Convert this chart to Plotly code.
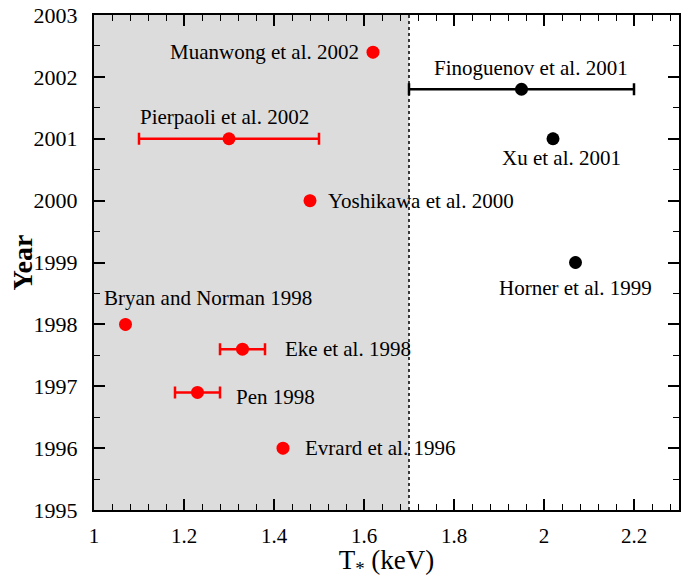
import plotly.graph_objects as go

# Data
red_names = ["Muanwong et al. 2002", "Pierpaoli et al. 2002", "Yoshikawa et al. 2000",
             "Bryan and Norman 1998", "Eke et al. 1998", "Pen 1998", "Evrard et al. 1996"]
red_T = [1.62, 1.30, 1.48, 1.07, 1.33, 1.23, 1.42]
red_year = [2002.4, 2001.0, 2000.0, 1998.0, 1997.6, 1996.9, 1996.0]
red_err_plus = [0, 0.20, 0, 0, 0.05, 0.05, 0]
red_err_minus = [0, 0.20, 0, 0, 0.05, 0.05, 0]

black_names = ["Finoguenov et al. 2001", "Xu et al. 2001", "Horner et al. 1999"]
black_T = [1.95, 2.02, 2.07]
black_year = [2001.8, 2001.0, 1999.0]
black_err_plus = [0.25, 0, 0]
black_err_minus = [0.25, 0, 0]

T_limit = 1.7

# label placement (offsets in data units relative to the point) and anchor
label_offsets = {
    "Muanwong et al. 2002": (-0.027, 0.0, "right"),
    "Pierpaoli et al. 2002": (-0.01, 0.35, "center"),
    "Yoshikawa et al. 2000": (0.035, 0.0, "left"),
    "Bryan and Norman 1998": (-0.053, 0.42, "left"),
    "Eke et al. 1998": (0.09, 0.0, "left"),
    "Pen 1998": (0.08, -0.07, "left"),
    "Evrard et al. 1996": (0.044, 0.0, "left"),
    "Finoguenov et al. 2001": (0.02, 0.34, "center"),
    "Xu et al. 2001": (0.018, -0.31, "center"),
    "Horner et al. 1999": (0.0, -0.41, "center"),
}

FONT = "Liberation Serif"
RED = "#ff0000"

fig = go.Figure()

fig.add_shape(type="rect", xref="x", yref="y", x0=1.0, x1=T_limit, y0=1995, y1=2003,
              fillcolor="#dcdcdc", line=dict(width=0), layer="below")
fig.add_shape(type="line", xref="x", yref="y", x0=T_limit, x1=T_limit, y0=1995, y1=2003,
              line=dict(color="black", width=1.5, dash="dot"), layer="above")

fig.add_trace(go.Scatter(
    x=red_T, y=red_year, mode="markers",
    marker=dict(color=RED, size=13),
    error_x=dict(type="data", symmetric=False, array=red_err_plus, arrayminus=red_err_minus,
                 color=RED, thickness=2.5, width=6),
    showlegend=False, hoverinfo="skip"))

fig.add_trace(go.Scatter(
    x=black_T, y=black_year, mode="markers",
    marker=dict(color="black", size=13),
    error_x=dict(type="data", symmetric=False, array=black_err_plus, arrayminus=black_err_minus,
                 color="black", thickness=2.5, width=6),
    showlegend=False, hoverinfo="skip"))

for names, xs, ys in [(red_names, red_T, red_year), (black_names, black_T, black_year)]:
    for n, xv, yv in zip(names, xs, ys):
        dx, dy, anc = label_offsets[n]
        fig.add_annotation(x=xv + dx, y=yv + dy, text=n, showarrow=False, xanchor=anc,
                           yanchor="middle", font=dict(family=FONT, size=21, color="black"))

# y-axis title as a rotated annotation (placed in paper coordinates)
fig.add_annotation(x=-0.123, y=0.5, xref="paper", yref="paper", text="<b>Year</b>",
                   textangle=-90, showarrow=False, xanchor="center", yanchor="middle",
                   font=dict(family=FONT, size=28, color="black"))

axis_common = dict(showgrid=False, zeroline=False, showline=True, linecolor="black",
                   linewidth=2, mirror="ticks", ticks="inside", tickcolor="black",
                   tickwidth=1.5, ticklen=11, automargin=False)

fig.update_xaxes(range=[1, 2.3], tickmode="array",
                 tickvals=[1, 1.2, 1.4, 1.6, 1.8, 2, 2.2],
                 ticktext=["1", "1.2", "1.4", "1.6", "1.8", "2", "2.2"],
                 ticklabelstandoff=6,
                 tickfont=dict(family=FONT, size=21, color="black"),
                 minor=dict(ticks="inside", ticklen=6, tickwidth=1.2, tickcolor="black", dtick=0.04, tick0=1),
                 title=dict(text="T<sub>*</sub> (keV)", font=dict(family=FONT, size=27, color="black"),
                            standoff=4),
                 **axis_common)
fig.update_yaxes(range=[1995, 2003], tickmode="array",
                 tickvals=list(range(1995, 2004)),
                 ticktext=[str(v) for v in range(1995, 2004)],
                 ticklabelstandoff=10,
                 tickfont=dict(family=FONT, size=22, color="black"),
                 minor=dict(ticks="inside", ticklen=6, tickwidth=1.2, tickcolor="black", dtick=0.5, tick0=1995),
                 **axis_common)

fig.update_layout(width=689, height=579, margin=dict(l=94, r=10, t=15, b=69),
                  plot_bgcolor="white", paper_bgcolor="white")

# remove the default 8px page margin so the figure sits at the window's corner
fig.write_html("out.html", config={"displayModeBar": False},
               post_script="document.body.style.margin='0';")
